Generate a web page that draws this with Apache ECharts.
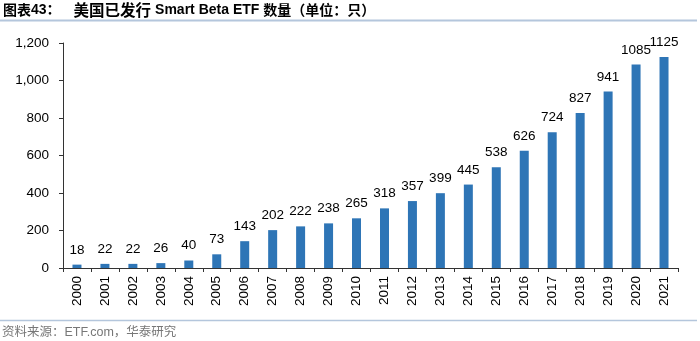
<!DOCTYPE html>
<html><head><meta charset="utf-8">
<script src="https://cdn.jsdelivr.net/npm/echarts@6/dist/echarts.min.js"></script>
<style>html,body{margin:0;padding:0;background:#fff}#c{width:700px;height:341px}</style>
</head><body><div id="c"></div>
<script>
const years = ['2000','2001','2002','2003','2004','2005','2006','2007','2008','2009','2010','2011','2012','2013','2014','2015','2016','2017','2018','2019','2020','2021'];
const counts = [18,22,22,26,40,73,143,202,222,238,265,318,357,399,445,538,626,724,827,941,1085,1125];
const titleParts = ['图表', '43：', '美国已发行', 'Smart Beta ETF', '数量（单位：只）'];
const sourceText = '资料来源：ETF.com，华泰研究';
const FONT = '"Liberation Sans", Arial, "Noto Sans CJK SC", sans-serif';
const CJK = '"Noto Sans CJK SC", sans-serif';
const chart = echarts.init(document.getElementById('c'), null, {renderer:'canvas'});
chart.setOption({
  animation:false,
  textStyle:{fontFamily:FONT},
  graphic:[
    {type:'text', left:3, top:2, style:{
      text:'{c|'+titleParts[0]+'}{l|'+titleParts[1]+'}{g| }{c2|'+titleParts[2]+'}{s| }{l|'+titleParts[3]+'}{s| }{c3|'+titleParts[4]+'}',
      rich:{
        c:{fontFamily:CJK, fontWeight:'bold', fontSize:14, fill:'#000', color:'#000'},
        c2:{fontFamily:CJK, fontWeight:'bold', fontSize:15.5, fill:'#000', color:'#000'},
        c3:{fontFamily:CJK, fontWeight:'bold', fontSize:14, fill:'#000', color:'#000'},
        l:{fontFamily:FONT, fontWeight:'bold', fontSize:14, fill:'#000', color:'#000'},
        g:{fontSize:14, width:13},
        s:{fontSize:13, width:4}
      }}},
    {type:'line', shape:{x1:0,y1:20.5,x2:697,y2:20.5}, style:{stroke:'#b4c6dc', lineWidth:2}},
    {type:'line', shape:{x1:0,y1:320.5,x2:697,y2:320.5}, style:{stroke:'#b4c6dc', lineWidth:1.5}},
    {type:'text', left:2, top:326, style:{text:sourceText, font:'12.5px '+FONT, fill:'#777'}}
  ],
  grid:{left:63, right:22, top:43, bottom:73, containLabel:false},
  xAxis:{type:'category', data:years,
    axisLine:{lineStyle:{color:'#333', width:1}},
    axisTick:{show:true, length:4, alignWithLabel:false, lineStyle:{color:'#333'}},
    axisLabel:{rotate:90, color:'#000', fontSize:13.5, margin:8, fontFamily:FONT}
  },
  yAxis:{type:'value', min:0, max:1200, interval:200,
    axisLine:{show:true, lineStyle:{color:'#333', width:1}},
    axisTick:{show:true, length:4, lineStyle:{color:'#333'}},
    splitLine:{show:false},
    axisLabel:{color:'#000', fontSize:13.5, margin:14, fontFamily:FONT,
      formatter:v=>v.toLocaleString('en-US')}
  },
  series:[{type:'bar', data:counts, barWidth:9,
    itemStyle:{color:'#2e75b6'},
    label:{show:true, position:'top', distance:8, color:'#000', fontSize:13.5, fontFamily:FONT}
  }]
});
</script></body></html>
